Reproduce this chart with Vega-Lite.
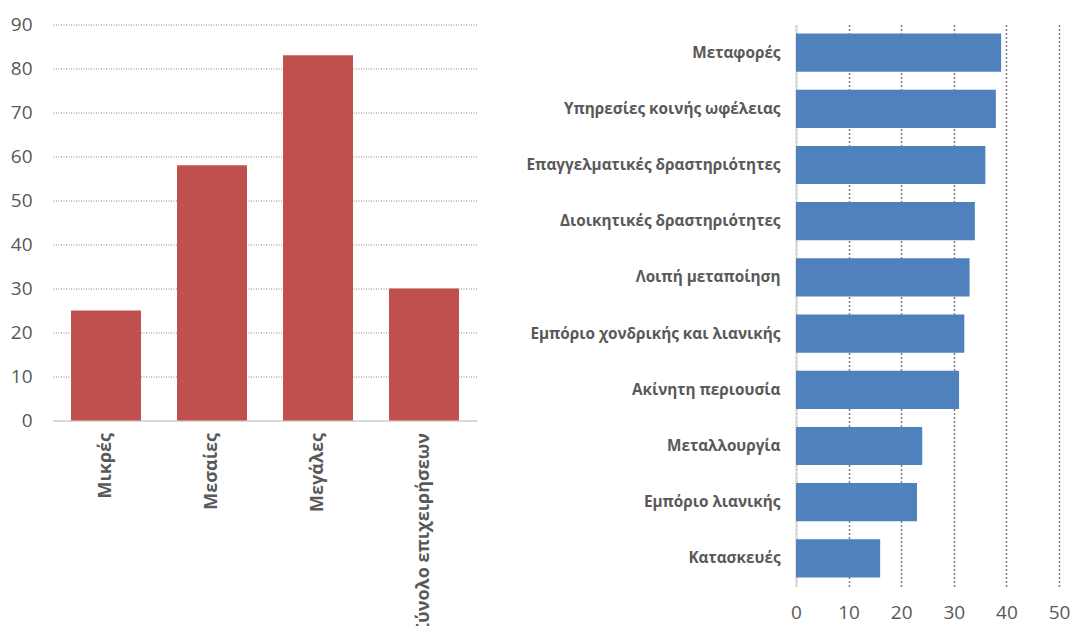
{
  "$schema": "https://vega.github.io/schema/vega-lite/v6.json",
  "padding": {"left": 10, "top": 15.5, "right": 5, "bottom": 5},
  "background": "white",
  "bounds": "flush",
  "spacing": 319,
  "config": {"view": {"stroke": null}, "font": "Open Sans"},
  "datasets": {
    "size": [
      {"category": "Μικρές", "value": 25},
      {"category": "Μεσαίες", "value": 58},
      {"category": "Μεγάλες", "value": 83},
      {"category": "Σύνολο επιχειρήσεων", "value": 30}
    ],
    "sector": [
      {"sector": "Μεταφορές", "value": 39},
      {"sector": "Υπηρεσίες κοινής ωφέλειας", "value": 38},
      {"sector": "Επαγγελματικές δραστηριότητες", "value": 36},
      {"sector": "Διοικητικές δραστηριότητες", "value": 34},
      {"sector": "Λοιπή μεταποίηση", "value": 33},
      {"sector": "Εμπόριο χονδρικής και λιανικής", "value": 32},
      {"sector": "Ακίνητη περιουσία", "value": 31},
      {"sector": "Μεταλλουργία", "value": 24},
      {"sector": "Εμπόριο λιανικής", "value": 23},
      {"sector": "Κατασκευές", "value": 16}
    ]
  },
  "hconcat": [
    {
      "width": 424,
      "height": 396,
      "data": {"name": "size"},
      "mark": {"type": "bar", "color": "#C0504D"},
      "encoding": {
        "x": {
          "field": "category", "type": "nominal", "sort": null,
          "scale": {"paddingInner": 0.34, "paddingOuter": 0.17},
          "axis": {
            "title": null, "labelAngle": 270, "labelFontSize": 18, "labelFontWeight": "bold",
            "labelColor": "#595959", "labelPadding": 12, "labelLimit": 600,
            "domainColor": "#D9D9D9", "domainWidth": 2, "ticks": false, "grid": false
          }
        },
        "y": {
          "field": "value", "type": "quantitative",
          "scale": {"domain": [0, 90], "nice": false},
          "axis": {
            "title": null, "values": [0, 10, 20, 30, 40, 50, 60, 70, 80, 90],
            "labelFontSize": 19, "labelColor": "#595959", "labelPadding": 21,
            "labelFlush": false,
            "domain": false, "ticks": false,
            "grid": true, "gridColor": "#808080", "gridDash": [1, 1.5], "gridWidth": 1
          }
        }
      }
    },
    {
      "width": 263,
      "height": 562,
      "data": {"name": "sector"},
      "mark": {"type": "bar", "color": "#4F81BD"},
      "encoding": {
        "y": {
          "field": "sector", "type": "nominal", "sort": null,
          "scale": {"paddingInner": 0.32, "paddingOuter": 0.16},
          "axis": {
            "title": null, "labelFontSize": 15.3, "labelFontWeight": "bold",
            "labelColor": "#595959", "labelPadding": 16, "labelLimit": 600,
            "domainColor": "#D9D9D9", "domainWidth": 2, "ticks": false, "grid": false
          }
        },
        "x": {
          "field": "value", "type": "quantitative",
          "scale": {"domain": [0, 50], "nice": false},
          "axis": {
            "title": null, "values": [0, 10, 20, 30, 40, 50],
            "labelFontSize": 19, "labelColor": "#595959", "labelPadding": 17,
            "labelFlush": false,
            "domain": false, "ticks": false,
            "grid": true, "gridColor": "#808080", "gridDash": [2, 2], "gridWidth": 1.5
          }
        }
      }
    }
  ]
}
